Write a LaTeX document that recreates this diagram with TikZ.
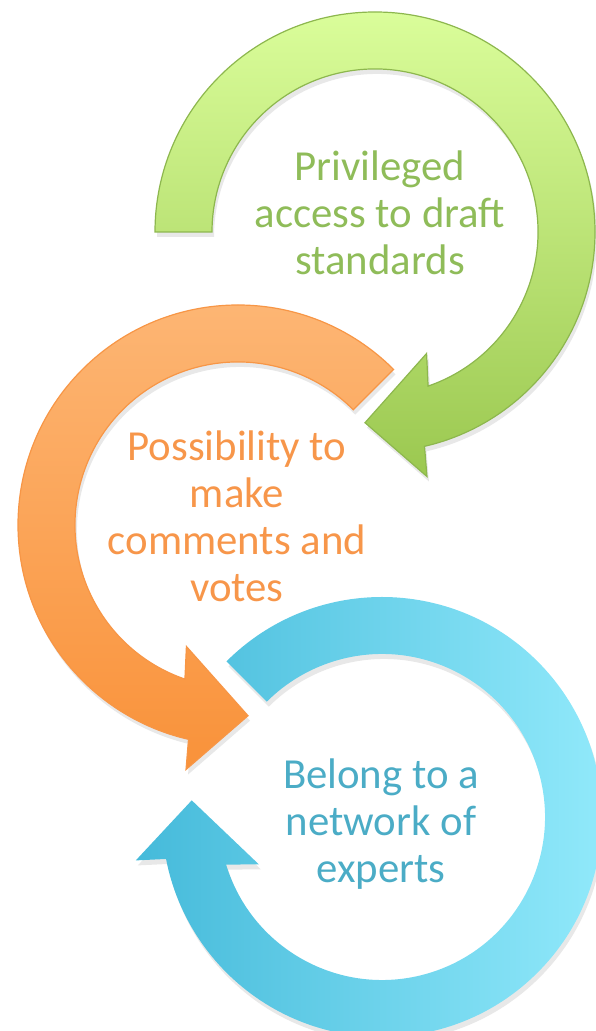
\documentclass[tikz,border=0pt]{standalone}
\usepackage{fontspec}
\setmainfont{Carlito}
\usetikzlibrary{shadows}
\definecolor{greentop}{RGB}{218,253,154}
\definecolor{greenbot}{RGB}{155,200,80}
\definecolor{greenline}{RGB}{141,183,78}
\definecolor{greentext}{RGB}{143,188,89}
\definecolor{orangetop}{RGB}{253,183,118}
\definecolor{orangebot}{RGB}{249,146,58}
\definecolor{orangeline}{RGB}{247,150,70}
\definecolor{orangetext}{RGB}{247,150,74}
\definecolor{blueleft}{RGB}{69,186,218}
\definecolor{blueright}{RGB}{148,235,252}
\definecolor{bluetext}{RGB}{75,172,198}
\newcommand{\cyclearrow}[5]{%
  \begin{scope}[shift={(#1)}]
    \path[#5] (#2:220) arc[start angle=#2, end angle={#3+3*(#4)}, radius=220]
      -- ({#3+4*(#4)}:250) -- ({#3+19*(#4)}:191) -- ({#3-7*(#4)}:132)
      -- ({#3-3*(#4)}:163) arc[start angle={#3-3*(#4)}, end angle=#2, radius=163]
      -- cycle;
  \end{scope}}
\tikzset{
  ring/.style={line width=0.6pt, drop shadow={opacity=0.18, shadow xshift=1pt, shadow yshift=-2.5pt}},
  greenring/.style={ring, draw=greenline, top color=greentop, bottom color=greenbot},
  orangering/.style={ring, draw=orangeline, top color=orangetop, bottom color=orangebot},
  bluering/.style={ring, left color=blueleft, right color=blueright},
  label/.style={align=center, font=\fontsize{21.4}{23.5}\selectfont}
}
\begin{document}
\begin{tikzpicture}[x=0.5pt, y=0.5pt]
  \useasboundingbox (0,0) rectangle (595,1031);
  \coordinate (g) at (375,799);
  \coordinate (o) at (238,506);
  \coordinate (b) at (382,214);
  \cyclearrow{g}{180}{-74}{-1}{greenring}
  \cyclearrow{o}{45}{254}{1}{orangering}
  \cyclearrow{b}{135}{-166}{-1}{bluering}
  \node[label, text=greentext] (access) at (380,818) {Privileged\\access to draft\\standards};
  \node[label, text=orangetext] (comments) at (237,515) {Possibility to\\make\\comments and\\votes};
  \node[label, text=bluetext] (network) at (381,207) {Belong to a\\network of\\experts};
\end{tikzpicture}
\end{document}
